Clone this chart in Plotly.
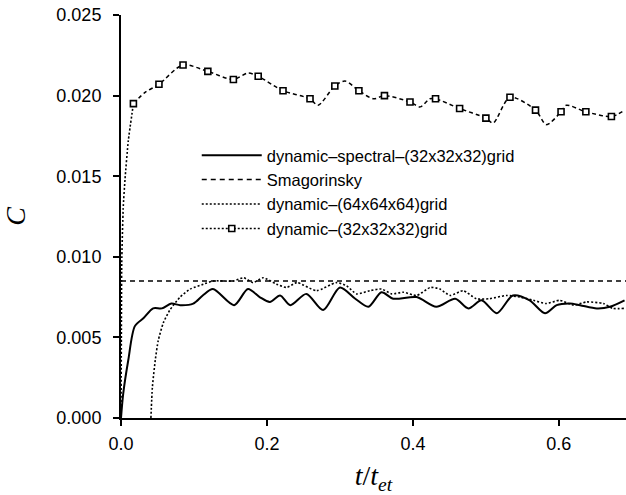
import plotly.graph_objects as go

# dynamic-spectral-(32x32x32)grid  (solid)
t_spec = [0, 0.003, 0.010, 0.019, 0.031, 0.044, 0.056, 0.069, 0.081, 0.099, 0.112, 0.126, 0.155,
          0.174, 0.190, 0.204, 0.218, 0.232, 0.254, 0.277, 0.300, 0.321, 0.339, 0.357, 0.373,
          0.405, 0.432, 0.458, 0.476, 0.494, 0.515, 0.537, 0.560, 0.581, 0.597, 0.615, 0.629,
          0.652, 0.670, 0.690]
c_spec = [0, 0.0015, 0.0036, 0.0057, 0.0062, 0.0068, 0.0068, 0.0071, 0.0070, 0.0071, 0.0076, 0.0080, 0.0070,
          0.0080, 0.0075, 0.0072, 0.0076, 0.0070, 0.0077, 0.0067, 0.0081, 0.0074, 0.0069, 0.0078, 0.0074,
          0.0075, 0.0069, 0.0074, 0.0068, 0.0073, 0.0065, 0.0076, 0.0073, 0.0065, 0.0070, 0.0071, 0.0070,
          0.0068, 0.0069, 0.0073]

# Smagorinsky (dashed, constant)
t_smag = [0.0, 0.692]
c_smag = [0.0085, 0.0085]

# dynamic-(64x64x64)grid (dotted)
t_64 = [0.041, 0.043, 0.047, 0.051, 0.058, 0.067, 0.081, 0.095, 0.113, 0.126, 0.154, 0.168, 0.181,
        0.195, 0.213, 0.227, 0.241, 0.268, 0.295, 0.309, 0.323, 0.341, 0.357, 0.371, 0.387, 0.405,
        0.424, 0.437, 0.451, 0.469, 0.487, 0.505, 0.528, 0.547, 0.565, 0.583, 0.601, 0.620, 0.638,
        0.661, 0.674, 0.690]
c_64 = [0.0, 0.0019, 0.0036, 0.0048, 0.0059, 0.0067, 0.0075, 0.0080, 0.0083, 0.0085, 0.0085, 0.0087, 0.0084,
        0.0087, 0.0083, 0.0081, 0.0084, 0.0079, 0.0084, 0.0082, 0.0077, 0.0079, 0.0080, 0.0077, 0.0078, 0.0076,
        0.0081, 0.0080, 0.0076, 0.0079, 0.0074, 0.0074, 0.0076, 0.0075, 0.0073, 0.0071, 0.0073, 0.0070, 0.0072,
        0.0071, 0.0068, 0.0068]

# dynamic-(32x32x32)grid : initial rise (dotted) and rest (dashed, with square markers)
t_32_rise = [0.0, 0.0005, 0.001, 0.003, 0.0055, 0.010, 0.017]
c_32_rise = [0.0, 0.0050, 0.0096, 0.0130, 0.0148, 0.0172, 0.0195]
t_32 = [0.017, 0.033, 0.052, 0.085, 0.119, 0.154, 0.174, 0.188, 0.222, 0.259, 0.270, 0.293, 0.307,
        0.326, 0.346, 0.361, 0.396, 0.410, 0.423, 0.431, 0.464, 0.500, 0.510, 0.533, 0.568, 0.583,
        0.603, 0.610, 0.637, 0.672, 0.690]
c_32 = [0.0195, 0.0202, 0.0207, 0.0219, 0.0215, 0.0210, 0.0214, 0.0212, 0.0203, 0.0198, 0.0194, 0.0206, 0.0209,
        0.0203, 0.0198, 0.0200, 0.0196, 0.0193, 0.0198, 0.0198, 0.0192, 0.0186, 0.0183, 0.0199, 0.0191, 0.0182,
        0.0190, 0.0194, 0.0190, 0.0187, 0.0191]
t_32_mark = [0.017, 0.052, 0.085, 0.119, 0.154, 0.188, 0.222, 0.259, 0.293, 0.326, 0.361, 0.396, 0.431,
             0.464, 0.500, 0.533, 0.568, 0.603, 0.637, 0.672]
c_32_mark = [0.0195, 0.0207, 0.0219, 0.0215, 0.0210, 0.0212, 0.0203, 0.0198, 0.0206, 0.0203, 0.0200, 0.0196, 0.0198,
             0.0192, 0.0186, 0.0199, 0.0191, 0.0190, 0.0190, 0.0187]

x_ticks = [0.0, 0.2, 0.4, 0.6]
x_ticktext = ["0.0", "0.2", "0.4", "0.6"]
y_ticks = [0.000, 0.005, 0.010, 0.015, 0.020, 0.025]
y_ticktext = ["0.000", "0.005", "0.010", "0.015", "0.020", "0.025"]

names = ["dynamic\u2013spectral\u2013(32x32x32)grid", "Smagorinsky",
         "dynamic\u2013(64x64x64)grid", "dynamic\u2013(32x32x32)grid"]

K = "black"
fig = go.Figure()
fig.add_trace(go.Scatter(x=t_spec, y=c_spec, mode="lines", name=names[0],
                         line=dict(color=K, width=2, shape="spline", smoothing=0.8)))
fig.add_trace(go.Scatter(x=t_smag, y=c_smag, mode="lines", name=names[1],
                         line=dict(color=K, width=1.5, dash="5px,4px")))
fig.add_trace(go.Scatter(x=t_64, y=c_64, mode="lines", name=names[2],
                         line=dict(color=K, width=1.6, dash="2px,2px", shape="spline", smoothing=0.6)))
fig.add_trace(go.Scatter(x=t_32_rise, y=c_32_rise, mode="lines", showlegend=False,
                         line=dict(color=K, width=1.6, dash="2px,2px", shape="spline", smoothing=0.5)))
fig.add_trace(go.Scatter(x=t_32, y=c_32, mode="lines", showlegend=False,
                         line=dict(color=K, width=1.5, dash="4px,3px", shape="spline", smoothing=0.8)))
fig.add_trace(go.Scatter(x=t_32_mark, y=c_32_mark, mode="markers", showlegend=False,
                         marker=dict(symbol="square", size=6, color="white",
                                     line=dict(color=K, width=1.6))))
fig.add_trace(go.Scatter(x=[None], y=[None], mode="lines+markers", name=names[3],
                         line=dict(color=K, width=1.5, dash="2px,2px"),
                         marker=dict(symbol="square", size=6, color="white",
                                     line=dict(color=K, width=1.6))))

tick_font = dict(family="Liberation Sans, Arial, sans-serif", size=18, color=K)
title_font = dict(family="Liberation Serif, Times New Roman, serif", size=28, color=K)

fig.update_layout(
    width=626, height=495,
    margin=dict(l=121, r=0, t=15, b=77),
    paper_bgcolor="white", plot_bgcolor="white",
    showlegend=True,
    legend=dict(x=0.15, y=0.695, xanchor="left", yanchor="top",
                bgcolor="rgba(0,0,0,0)", borderwidth=0,
                font=dict(family="Liberation Sans, Arial, sans-serif", size=16.5, color=K),
                itemwidth=60, tracegroupgap=0),
    xaxis=dict(range=[0, 0.692], tickvals=x_ticks, ticktext=x_ticktext,
               ticks="outside", ticklen=6, tickwidth=1.5, tickcolor=K,
               showline=True, linecolor=K, linewidth=2, showgrid=False, zeroline=False,
               tickfont=tick_font, ticklabelstandoff=2,
               title=dict(text="<i>t</i>/<i>t</i><sub><i>et</i></sub>", font=title_font, standoff=14)),
    yaxis=dict(range=[0, 0.025], tickvals=y_ticks, ticktext=y_ticktext,
               ticks="outside", ticklen=6, tickwidth=1.5, tickcolor=K,
               showline=True, linecolor=K, linewidth=2, showgrid=False, zeroline=False,
               tickfont=tick_font, ticklabelstandoff=8,
               title=dict(text="<i>C</i>", font=title_font, standoff=28)),
)

fig.write_html("out.html")
